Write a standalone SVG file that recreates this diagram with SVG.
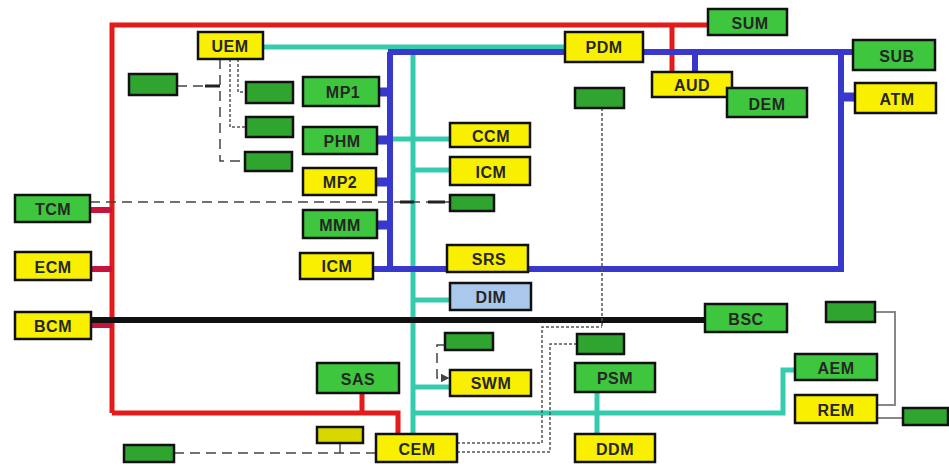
<svg xmlns="http://www.w3.org/2000/svg" width="949" height="469" viewBox="0 0 949 469">
<style>
.n rect{stroke:#111;stroke-width:2.5}
.g{fill:#3ec63e}
.y{fill:#f8f000}
.b{fill:#a9c8ec}
.sm{fill:#2fa52f;stroke:#111;stroke-width:2.5}
.smy{fill:#d8d800;stroke:#111;stroke-width:2.5}
text{font-family:"Liberation Sans",Arial,sans-serif;font-size:16px;font-weight:bold;fill:#262626;text-anchor:middle;letter-spacing:0.5px}
.red{stroke:#e41b1b;stroke-width:5;fill:none}
.rs{stroke:#c8143c;stroke-width:6;fill:none}
.teal{stroke:#35ccae;stroke-width:5;fill:none}
.blue{stroke:#3838cc;stroke-width:6;fill:none}
.bs{stroke:#3838cc;stroke-width:9;fill:none}
.blk{stroke:#111;stroke-width:6;fill:none}
.dash{stroke:#444;stroke-width:1.5;fill:none;stroke-dasharray:10 6}
.dot{stroke:#555;stroke-width:1.5;fill:none;stroke-dasharray:3 2}
.gray{stroke:#888;stroke-width:2;fill:none}
</style>
<defs>
<marker id="ar" markerWidth="6" markerHeight="6" refX="5" refY="3" orient="auto"><path d="M0,0 L6,3 L0,6 Z" fill="#444"/></marker>
</defs>
<rect width="949" height="469" fill="#fff"/>
<g id="connectors">
<path class="teal" d="M263,47 H565 M413,47 V434 M392,139 H450 M413,170 H450 M413,300 H450 M413,387 H450 M413,413 H783 V370 H795 M597,392 V434"/>
<path class="red" d="M112,413 V25 H708 M672,25 V72 M112,413 H398 V434 M362,393 V413"/>
<path class="rs" d="M90,210 H112 M91,269 H112 M91,325 H112"/>
<path class="blue" d="M388,52 H565 M643,52 H853 M841,52 V269 H373 M390,52 V269 M695,52 V72"/>
<path class="bs" d="M379,92 H390 M377,140 H390 M376,182 H390 M377,225 H390 M841,97 H855"/>
<path class="blk" d="M91,320 H705"/>
<path class="dash" d="M90,202 H450 M177,86 H220 M220,59 V161 H245 M174,453 H376"/>
<path d="M400,202 H414 M428,202 H445 M205,86 H220" stroke="#222" stroke-width="3" fill="none"/>
<path class="dot" d="M230,59 V127 H246 M238,59 V92 H246 M602,108 V327 M457,443 H542 V327 H602 M457,452 H550 V344 H577"/>
<path class="dash" d="M445,345 H437 V378 H448" stroke-dasharray="4 3" marker-end="url(#ar)"/>
<path d="M340,443 V453" stroke="#444" stroke-width="1.5"/>
<path class="gray" d="M875,312 H895 V405 H877 M877,418 H903"/>
</g>
<g id="UEM" class="n"><rect class="y" x="198" y="32" width="65" height="27"/><text x="230" y="52">UEM</text></g>
<g id="PDM" class="n"><rect class="y" x="565" y="32" width="78" height="30"/><text x="604" y="53">PDM</text></g>
<g id="SUM" class="n"><rect class="g" x="708" y="9" width="79" height="26"/><text x="750" y="29">SUM</text></g>
<g id="AUD" class="n"><rect class="y" x="652" y="72" width="80" height="25"/><text x="692" y="91">AUD</text></g>
<g id="DEM" class="n"><rect class="g" x="727" y="88" width="80" height="29"/><text x="767" y="110">DEM</text></g>
<g id="SUB" class="n"><rect class="g" x="853" y="40" width="82" height="30"/><text x="897" y="62">SUB</text></g>
<g id="ATM" class="n"><rect class="y" x="855" y="83" width="81" height="30"/><text x="897" y="105">ATM</text></g>
<g id="MP1" class="n"><rect class="g" x="303" y="77" width="76" height="29"/><text x="343" y="98">MP1</text></g>
<g id="PHM" class="n"><rect class="g" x="303" y="127" width="74" height="27"/><text x="342" y="147">PHM</text></g>
<g id="MP2" class="n"><rect class="y" x="303" y="168" width="73" height="27"/><text x="340" y="188">MP2</text></g>
<g id="MMM" class="n"><rect class="g" x="303" y="210" width="74" height="28"/><text x="340" y="231">MMM</text></g>
<g id="ICM2" class="n"><rect class="y" x="300" y="253" width="73" height="26"/><text x="337" y="272">ICM</text></g>
<g id="CCM" class="n"><rect class="y" x="450" y="123" width="80" height="24"/><text x="491" y="142">CCM</text></g>
<g id="ICM" class="n"><rect class="y" x="450" y="157" width="80" height="28"/><text x="491" y="178">ICM</text></g>
<g id="SRS" class="n"><rect class="y" x="447" y="245" width="81" height="27"/><text x="489" y="265">SRS</text></g>
<g id="DIM" class="n"><rect class="b" x="450" y="283" width="81" height="27"/><text x="491" y="303">DIM</text></g>
<g id="SWM" class="n"><rect class="y" x="450" y="370" width="81" height="26"/><text x="491" y="389">SWM</text></g>
<g id="SAS" class="n"><rect class="g" x="317" y="363" width="82" height="30"/><text x="358" y="385">SAS</text></g>
<g id="CEM" class="n"><rect class="y" x="376" y="434" width="81" height="28"/><text x="417" y="455">CEM</text></g>
<g id="PSM" class="n"><rect class="g" x="575" y="363" width="80" height="29"/><text x="615" y="384">PSM</text></g>
<g id="DDM" class="n"><rect class="y" x="575" y="434" width="80" height="28"/><text x="615" y="455">DDM</text></g>
<g id="BSC" class="n"><rect class="g" x="705" y="304" width="82" height="28"/><text x="746" y="325">BSC</text></g>
<g id="AEM" class="n"><rect class="g" x="795" y="354" width="82" height="26"/><text x="836" y="374">AEM</text></g>
<g id="REM" class="n"><rect class="y" x="795" y="395" width="82" height="28"/><text x="836" y="416">REM</text></g>
<g id="TCM" class="n"><rect class="g" x="15" y="195" width="75" height="27"/><text x="53" y="215">TCM</text></g>
<g id="ECM" class="n"><rect class="y" x="15" y="252" width="76" height="28"/><text x="53" y="273">ECM</text></g>
<g id="BCM" class="n"><rect class="y" x="15" y="312" width="76" height="27"/><text x="53" y="332">BCM</text></g>
<g id="s1"><rect class="sm" x="129" y="74" width="48" height="21"/></g>
<g id="s2"><rect class="sm" x="246" y="82" width="47" height="21"/></g>
<g id="s3"><rect class="sm" x="246" y="117" width="47" height="20"/></g>
<g id="s4"><rect class="sm" x="245" y="152" width="47" height="19"/></g>
<g id="s5"><rect class="sm" x="450" y="195" width="44" height="16"/></g>
<g id="s6"><rect class="sm" x="575" y="88" width="49" height="20"/></g>
<g id="s7"><rect class="sm" x="445" y="333" width="48" height="17"/></g>
<g id="s8"><rect class="sm" x="577" y="334" width="47" height="20"/></g>
<g id="s9"><rect class="sm" x="826" y="302" width="49" height="20"/></g>
<g id="s10"><rect class="sm" x="903" y="408" width="45" height="17"/></g>
<g id="s11"><rect class="sm" x="124" y="445" width="50" height="17"/></g>
<g id="s12"><rect class="smy" x="317" y="427" width="46" height="16"/></g>
</svg>
